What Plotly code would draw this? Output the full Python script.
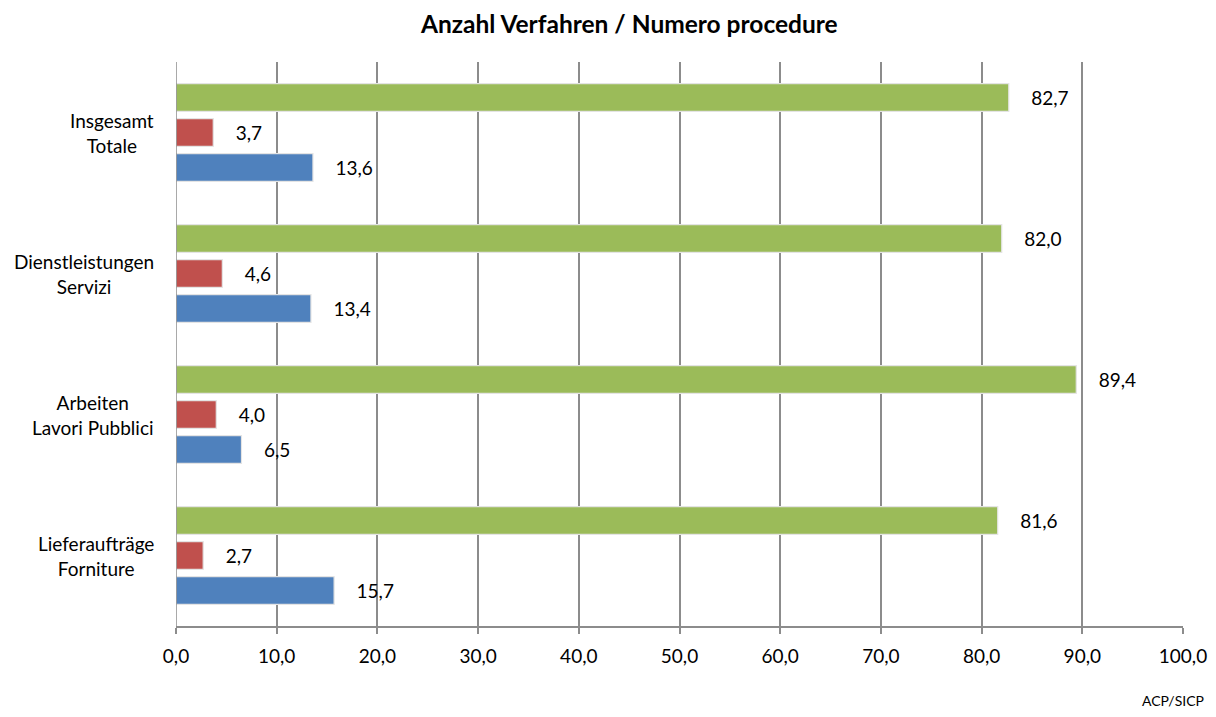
import plotly.graph_objects as go

categories = ["Lieferaufträge<br>Forniture", "Arbeiten<br>Lavori Pubblici",
              "Dienstleistungen<br>Servizi", "Insgesamt<br>Totale"]
cat_keys = ["Liefer", "Arbeiten", "Dienst", "Insgesamt"]
blue_vals = [15.7, 6.5, 13.4, 13.6]
red_vals = [2.7, 4.0, 4.6, 3.7]
green_vals = [81.6, 89.4, 82.0, 82.7]
tick_vals = [0, 10, 20, 30, 40, 50, 60, 70, 80, 90, 100]
tick_text = [f"{v:.1f}".replace(".", ",") for v in tick_vals]

FONT = "Lato, Open Sans, sans-serif"

def fmt(vals):
    return ["    " + f"{v:.1f}".replace(".", ",") for v in vals]

fig = go.Figure()
for name, vals, color in [("blue", blue_vals, "#4F81BD"),
                          ("red", red_vals, "#C0504D"),
                          ("green", green_vals, "#9BBB59")]:
    fig.add_trace(go.Bar(
        y=cat_keys, x=vals, orientation="h", name=name,
        marker=dict(color=color, line=dict(color="#e4e4e4", width=1.2)),
        text=fmt(vals), textposition="outside", cliponaxis=False,
        textfont=dict(family=FONT, size=19, color="#000000"),
        hoverinfo="skip",
    ))

annotations = []
for key, lab in zip(cat_keys, categories):
    annotations.append(dict(
        x=0, xref="paper", y=key, yref="y", text=lab, showarrow=False,
        xanchor="right", xshift=-20, align="center",
        font=dict(family=FONT, size=19, color="#000000"),
    ))
annotations.append(dict(
    x=1.0, xref="paper", y=0, yref="paper", text="ACP/SICP", showarrow=False,
    xanchor="right", yanchor="middle", xshift=23, yshift=-74,
    font=dict(family=FONT, size=14, color="#000000"),
))
annotations.append(dict(
    x=0.45, xref="paper", y=1, yref="paper", text="<b>Anzahl Verfahren / Numero procedure</b>",
    showarrow=False, xanchor="center", yanchor="middle", yshift=39,
    font=dict(family=FONT, size=24.5, color="#000000"),
))

fig.update_layout(
    width=1200, height=700,
    margin=dict(l=168, r=25, t=54, b=82, autoexpand=False),
    paper_bgcolor="white", plot_bgcolor="white",
    barmode="group", bargap=0.255, bargroupgap=0.21,
    showlegend=False,
    xaxis=dict(range=[0, 100], tickvals=tick_vals, ticktext=tick_text,
               automargin=False, ticklabelstandoff=6,
               showgrid=True, gridcolor="#8c8c8c", gridwidth=1.5,
               showline=True, linecolor="#8c8c8c", linewidth=1.5,
               ticks="outside", ticklen=6, tickcolor="#8c8c8c", tickwidth=1.5,
               zeroline=False,
               tickfont=dict(family=FONT, size=19, color="#000000")),
    yaxis=dict(showticklabels=False, showgrid=False, zeroline=False,
               showline=False, fixedrange=True, automargin=False),
    annotations=annotations,
)
fig.add_shape(type="line", xref="x", yref="paper", x0=0, x1=0, y0=0, y1=1,
              line=dict(color="#8c8c8c", width=1.5))

fig.write_html("out.html")
